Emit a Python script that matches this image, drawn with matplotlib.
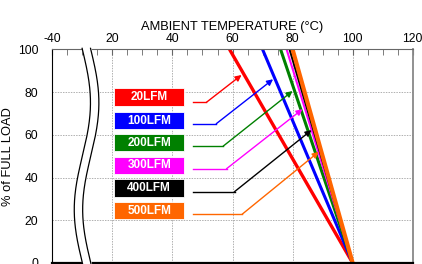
import numpy as np
import matplotlib
matplotlib.use('Agg')
import matplotlib.pyplot as plt

plt.rcParams['font.family'] = ['Liberation Sans', 'DejaVu Sans']

# derating curves: full load up to t_full, zero load at t_zero
labels = ['20LFM', '100LFM', '200LFM', '300LFM', '400LFM', '500LFM']
colors = ['#ff0000', '#0000ff', '#008000', '#ff00ff', '#000000', '#ff6600']
t_full = [59, 70, 76, 78, 79, 80]
t_zero = 100
line_w = [2.4, 2.2, 2.2, 1.5, 1.5, 3.0]

# label boxes and pointer arrows
box_y = [77.75, 66.65, 56.3, 45.7, 35.15, 24.55]
ptr_y = [75.2, 65.2, 54.7, 44.1, 33.4, 22.8]
knee_x = [51.3, 54.6, 56.9, 58.0, 60.7, 63.2]
tip_x = [63.0, 73.5, 80.0, 83.3, 86.3, 88.7]
tip_y = [88, 86, 80.5, 72, 62.2, 52]

xticks = [0, 20, 40, 60, 80, 100, 120]
xticklabels = ['-40', '20', '40', '60', '80', '100', '120']
yticks = [0, 20, 40, 60, 80, 100]

fig = plt.figure(figsize=(4.22, 2.64), dpi=100)
ax = fig.add_axes([0.124, 0.004, 0.854, 0.809])
ax.set_xlim(0, 120)
ax.set_ylim(0, 100)

# grid
for x in [20, 40, 60, 80, 100]:
    ax.axvline(x, color='#b0b0b0', lw=0.7, ls=(0, (1.5, 1.2)), zorder=1)
for y in [20, 40, 60, 80]:
    ax.axhline(y, color='#b0b0b0', lw=0.7, ls=(0, (1.5, 1.2)), zorder=1)

for i in range(len(labels)):
    ax.plot([t_full[i], t_zero], [100, 0], color=colors[i], lw=line_w[i],
            zorder=3, solid_capstyle='butt')

for i in range(len(labels)):
    ax.add_patch(plt.Rectangle((20.7, box_y[i] - 4.05), 23.1, 8.1,
                               facecolor=colors[i], edgecolor='white',
                               lw=0.6, zorder=4))
    ax.text(32.25, box_y[i], labels[i], color='white', fontsize=8.5,
            fontweight='bold', ha='center', va='center', zorder=5)
    ax.plot([46.7, knee_x[i]], [ptr_y[i], ptr_y[i]], color=colors[i],
            lw=1.0, zorder=4)
    ax.annotate('', xy=(tip_x[i], tip_y[i]), xytext=(knee_x[i], ptr_y[i]),
                arrowprops=dict(arrowstyle='-|>', color=colors[i], lw=1.0,
                                mutation_scale=9, shrinkA=0, shrinkB=0),
                zorder=4)

# axis break
yy = np.linspace(-1, 101, 200)
xl = 10.0 - 2.7 * np.sin(2 * np.pi * yy / 100)
xr = xl + 2.8
ax.fill_betweenx(yy, xl, xr, color='white', zorder=6, clip_on=False)
ax.plot(xl[1:-1], yy[1:-1], color='black', lw=0.9, zorder=7, clip_on=False)
ax.plot(xr[1:-1], yy[1:-1], color='black', lw=0.9, zorder=7, clip_on=False)

ax.xaxis.tick_top()
ax.xaxis.set_label_position('top')
ax.set_xticks(xticks)
ax.set_xticklabels(xticklabels)
ax.set_xticks(np.arange(0, 121, 5), minor=True)
ax.tick_params(axis='x', which='both', direction='in', colors='#666666',
               labelcolor='black', labelsize=8.7, pad=3)
ax.tick_params(axis='x', which='major', length=4)
ax.tick_params(axis='x', which='minor', length=4)
ax.set_yticks(yticks)
ax.tick_params(axis='y', length=0, labelsize=8.7, pad=10)
ax.set_xlabel('AMBIENT TEMPERATURE (°C)', fontsize=9.3, labelpad=2)
ax.set_ylabel('% of FULL LOAD', fontsize=9.3, labelpad=3)

ax.spines['top'].set_color('#666666')
ax.spines['right'].set_color('#888888')
ax.spines['right'].set_linewidth(1.3)
ax.spines['bottom'].set_linewidth(1.6)
for s in ['top', 'right', 'bottom', 'left']:
    ax.spines[s].set_zorder(5)

fig.savefig('out.png', dpi=100)
